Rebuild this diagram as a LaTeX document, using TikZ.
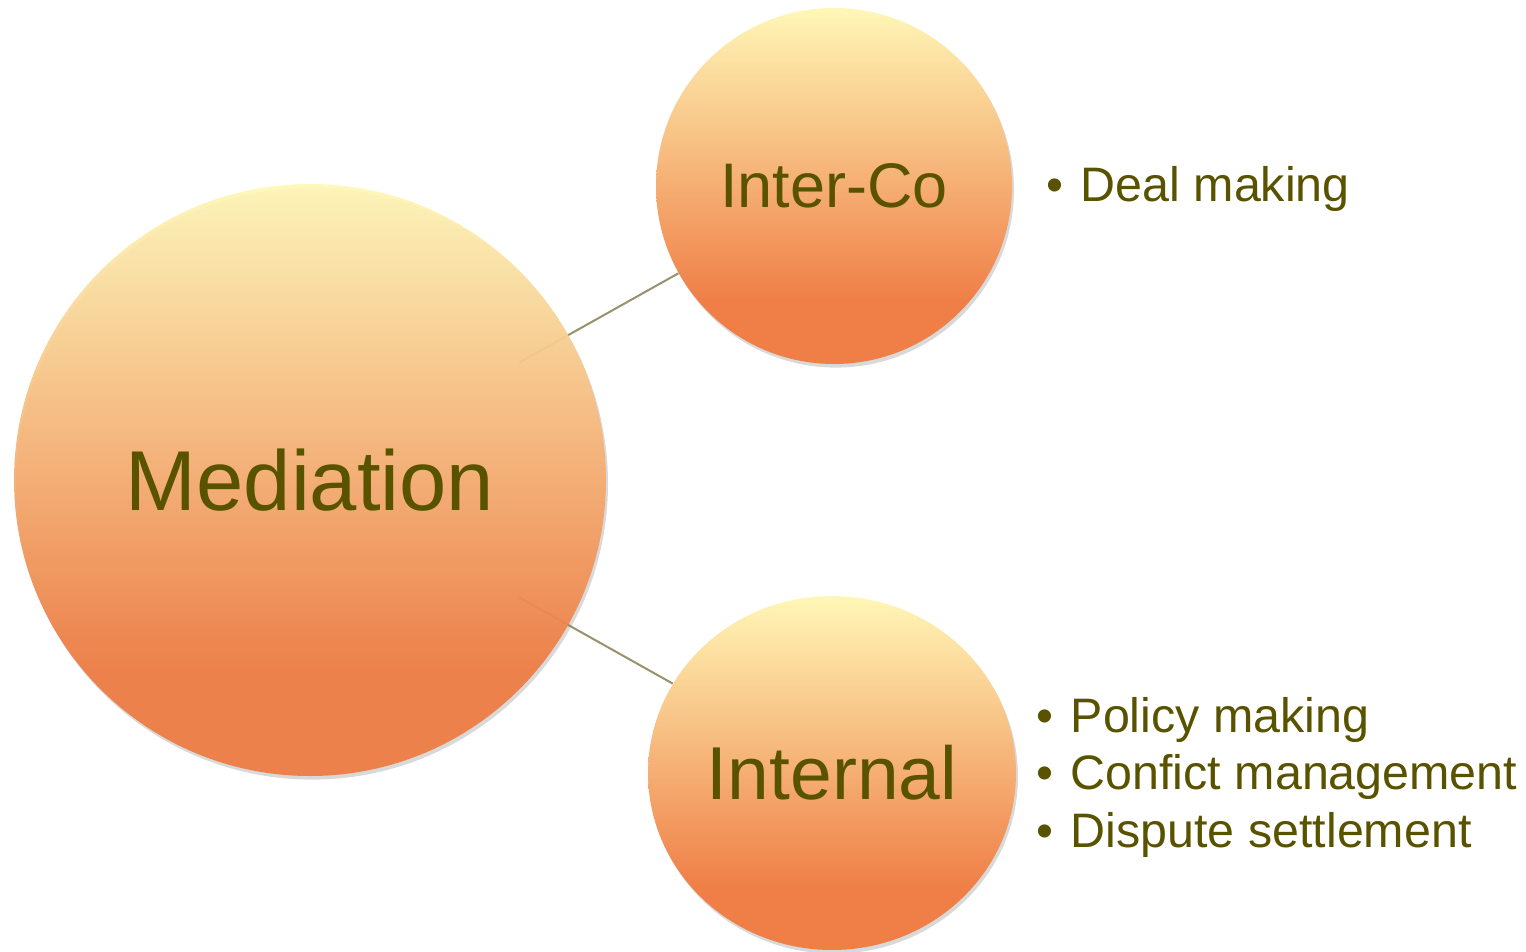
\documentclass[tikz,border=0pt]{standalone}
\usepackage{fontspec}
\setmainfont{Liberation Sans}
\usepackage{xcolor}
\usetikzlibrary{calc,shapes.geometric,shadows,backgrounds}

\definecolor{olivetext}{RGB}{89,83,0}
\definecolor{linkgray}{RGB}{152,146,108}
\definecolor{bubbletop}{RGB}{255,247,183}
\definecolor{bubblebottom}{RGB}{239,127,71}
\definecolor{bubbledeep}{RGB}{238,122,64}
\pgfdeclareverticalshading{bubble}{100bp}{color(0bp)=(bubblebottom); color(34bp)=(bubblebottom); color(75bp)=(bubbletop); color(100bp)=(bubbletop)}
\pgfdeclareverticalshading{bigbubble}{100bp}{color(0bp)=(bubbledeep); color(34bp)=(bubbledeep); color(75bp)=(bubbletop); color(100bp)=(bubbletop)}

\newcommand{\bitem}{\textbullet\hspace{0.36em}}

\begin{document}
\begin{tikzpicture}[x=0.5pt,y=-0.5pt,
  bubblenode/.style={ellipse,shading=bubble,inner sep=0pt,text=olivetext,
    drop shadow={shadow xshift=1pt,shadow yshift=-1.8pt,opacity=0.3}},
  link/.style={draw=linkgray,line width=1pt},
  listitem/.style={anchor=base west,inner sep=0pt,text=olivetext,
    font=\fontsize{24.2}{28.75}\selectfont}]
\useasboundingbox (0,0) rectangle (1526,952);
% the three circles
\node[bubblenode,shading=bigbubble,minimum width=296pt,minimum height=296pt,
  fill opacity=0.93,text opacity=1,font=\fontsize{42.5}{50}\selectfont] (med) at (310,480) {Mediation};
\node[bubblenode,minimum width=178pt,minimum height=178pt,
  font=\fontsize{31.5}{37}\selectfont] (ic) at (834,186) {Inter-Co};
\node[bubblenode,minimum width=184pt,minimum height=177pt,
  font=\fontsize{37.5}{44}\selectfont] (inl) at (832,773) {Internal};
% bullet lists
\node[listitem] (deal) at (1046,202) {\bitem Deal making};
\node[listitem] (policy) at (1036,732) {\bitem Policy making};
\node[listitem] (conflict) at (1036,789) {\bitem Confict management};
\node[listitem] (dispute) at (1036,847) {\bitem Dispute settlement};
% connectors
\begin{scope}[on background layer]
\draw[link] ($(med.center)!120pt!(ic.center)$) -- (ic);
\draw[link] ($(med.center)!120pt!(inl.center)$) -- (inl);
\end{scope}
\end{tikzpicture}
\end{document}
